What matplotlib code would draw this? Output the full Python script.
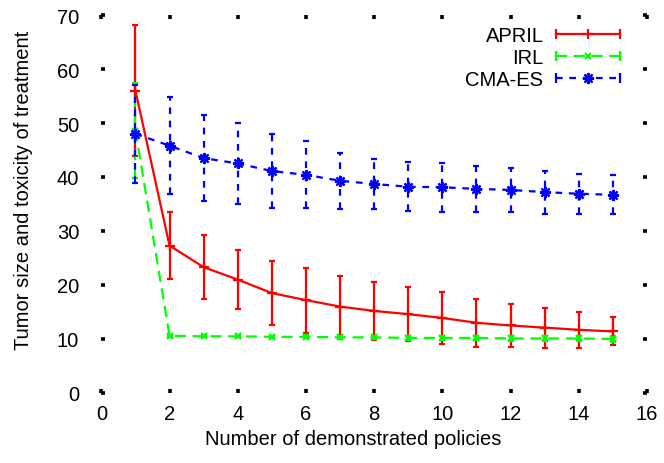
import matplotlib

matplotlib.use("Agg")
import matplotlib.pyplot as plt
from matplotlib.legend_handler import HandlerLine2D
from matplotlib.lines import Line2D

# values
n_policies = list(range(1, 16))

april_mean = [56.0, 27.3, 23.3, 21.0, 18.5, 17.2, 16.0, 15.2, 14.6, 13.9,
              13.0, 12.5, 12.1, 11.7, 11.4]
april_err = [12.1, 6.2, 5.9, 5.4, 5.9, 6.0, 5.7, 5.4, 5.0, 4.8,
             4.4, 4.0, 3.7, 3.3, 2.6]

irl_mean = [48.6, 10.6, 10.5, 10.5, 10.4, 10.4, 10.3, 10.3, 10.2, 10.2,
            10.2, 10.1, 10.1, 10.1, 10.0]
irl_err = [8.8, 0.2, 0.2, 0.2, 0.2, 0.3, 0.3, 0.3, 0.4, 0.4,
           0.4, 0.4, 0.4, 0.4, 0.5]

cma_mean = [48.0, 45.8, 43.5, 42.5, 41.1, 40.4, 39.3, 38.7, 38.2, 38.1,
            37.8, 37.6, 37.2, 36.9, 36.7]
cma_err = [9.1, 9.0, 8.0, 7.5, 6.8, 6.2, 5.2, 4.6, 4.5, 4.5,
           4.2, 4.0, 4.0, 3.7, 3.6]

x_ticks = list(range(0, 17, 2))
y_ticks = list(range(0, 71, 10))

plt.rcParams["font.family"] = ["Liberation Sans", "DejaVu Sans"]
plt.rcParams["font.size"] = 14.5

fig = plt.figure(figsize=(6.64, 4.64), dpi=100)
ax = fig.add_axes([0.1526, 0.1509, 0.8218, 0.8146])

series = [
    ("APRIL", april_mean, april_err, "#ff0000", "-", "+", 7),
    ("IRL", irl_mean, irl_err, "#00ff00", (0, (5, 3)), "x", 5),
    ("CMA-ES", cma_mean, cma_err, "#0000ff", (0, (3, 3)), (8, 2, 0), 8),
]

handles = []
handler_map = {}
for label, mean, err, color, ls, marker, msize in series:
    line, caps, bars = ax.errorbar(
        n_policies, mean, yerr=err, color=color, linestyle=ls, linewidth=1.6,
        marker=marker, markersize=msize, markeredgewidth=1.6,
        capsize=2.3, capthick=1.6, elinewidth=1.6,
    )
    bars[0].set_linestyle(ls)
    h_line = Line2D([], [], color=color, linestyle=ls, linewidth=1.6,
                    marker="|", markersize=7, markeredgewidth=1.6)
    h_mark = Line2D([], [], color=color, linestyle="none", marker=marker,
                    markersize=msize, markeredgewidth=1.6)
    handler_map[h_line] = HandlerLine2D(numpoints=2, marker_pad=0)
    handler_map[h_mark] = HandlerLine2D(numpoints=1)
    handles.append((h_line, h_mark))

ax.set_xlim(0, 16)
ax.set_ylim(0, 70)
ax.set_xticks(x_ticks)
ax.set_yticks(y_ticks)
for spine in ax.spines.values():
    spine.set_visible(False)
ax.tick_params(axis="both", direction="in", length=3, width=2.6,
               top=True, right=True)
ax.tick_params(axis="y", pad=16)
ax.tick_params(axis="x", pad=8)

ax.set_xlabel("Number of demonstrated policies")
ax.xaxis.set_label_coords(0.461, -0.095)
ax.set_ylabel("Tumor size and toxicity of treatment")
ax.yaxis.set_label_coords(-0.125, 0.54)

ax.legend(handles, [s[0] for s in series], handler_map=handler_map,
          loc="upper right", bbox_to_anchor=(0.9505, 0.970),
          frameon=False, markerfirst=False, borderpad=0, borderaxespad=0,
          handlelength=3.2, handletextpad=0.6, labelspacing=0.15)

fig.savefig("out.png", dpi=100)
